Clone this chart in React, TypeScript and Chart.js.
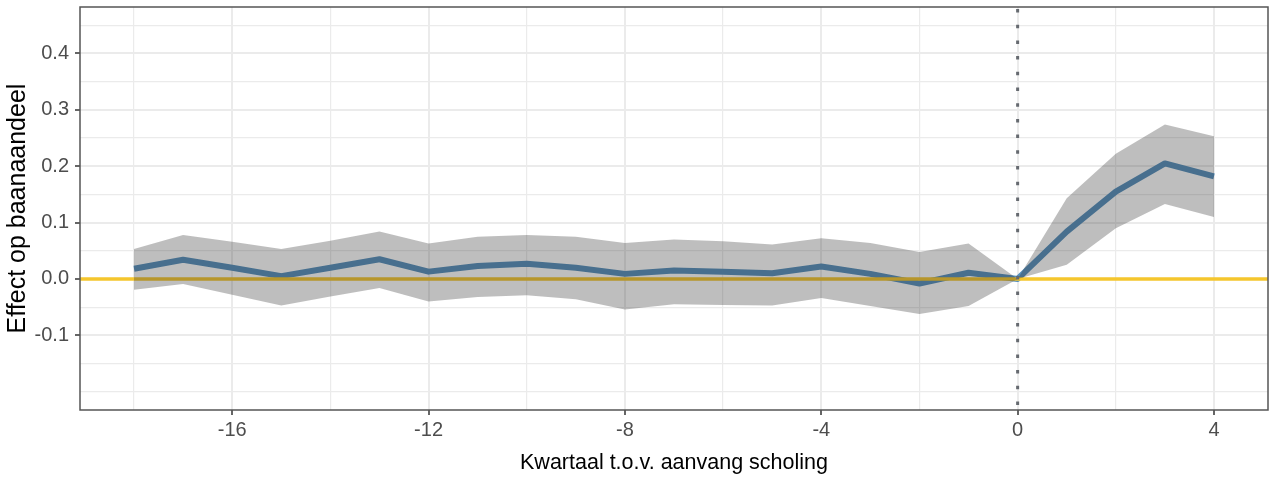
import React, { useEffect, useRef } from "react";
import { Chart, registerables } from "chart.js";

Chart.register(...registerables);

// ---- data ----
const quarters = [-18, -17, -16, -15, -14, -13, -12, -11, -10, -9, -8, -7, -6, -5, -4, -3, -2, -1, 0, 1, 2, 3, 4];
const estimate = [0.018, 0.034, 0.02, 0.005, 0.02, 0.035, 0.013, 0.023, 0.027, 0.02, 0.009, 0.015, 0.013, 0.01, 0.022, 0.009, -0.008, 0.011, 0, 0.084, 0.155, 0.205, 0.182];
const upperCI = [0.053, 0.078, 0.066, 0.053, 0.068, 0.084, 0.063, 0.075, 0.078, 0.075, 0.064, 0.07, 0.067, 0.061, 0.072, 0.064, 0.048, 0.063, 0, 0.143, 0.222, 0.274, 0.253];
const lowerCI = [-0.019, -0.009, -0.028, -0.047, -0.031, -0.016, -0.04, -0.032, -0.029, -0.036, -0.054, -0.045, -0.046, -0.047, -0.034, -0.048, -0.062, -0.048, 0, 0.025, 0.09, 0.133, 0.11];

const xGridValues = [-18, -16, -14, -12, -10, -8, -6, -4, -2, 0, 2, 4];
const xTickLabels = [-16, -12, -8, -4, 0, 4];
const yGridValues = [-0.2, -0.15, -0.1, -0.05, 0, 0.05, 0.1, 0.15, 0.2, 0.25, 0.3, 0.35, 0.4, 0.45];
const yTickLabels = [-0.1, 0, 0.1, 0.2, 0.3, 0.4];

const xTitle = "Kwartaal t.o.v. aanvang scholing";
const yTitle = "Effect op baanaandeel";
const refY = 0;
const eventX = 0;

const X_MIN = -19.1, X_MAX = 5.1;
const Y_MIN = -0.2325, Y_MAX = 0.4825;

const BLUE = "rgb(86,143,187)";
const YELLOW = "rgb(245,198,45)";
const RIBBON = "rgba(40,40,40,0.3)";
const GRID = "#ebebeb";
const TICK_TEXT = "#4d4d4d";
const FONT = "'Liberation Sans', Arial, Helvetica, sans-serif";

const isIn = (arr: number[], v: number) => arr.some((a) => Math.abs(a - v) < 1e-9);

export default function App() {
  const ref = useRef<HTMLCanvasElement | null>(null);
  useEffect(() => {
    document.body.style.margin = "0";
    const canvas = ref.current;
    if (!canvas) return;

    const overlay = {
      id: "overlay",
      afterDatasetDraw(chart: any, args: any) {
        if (args.index !== 2) return;
        const { ctx, chartArea: a, scales } = chart;
        const py = scales.y.getPixelForValue(refY);
        ctx.save();
        ctx.beginPath();
        ctx.rect(a.left, a.top, a.right - a.left, a.bottom - a.top);
        ctx.clip();
        ctx.strokeStyle = YELLOW;
        ctx.lineWidth = 3.5;
        ctx.beginPath();
        ctx.moveTo(a.left, py);
        ctx.lineTo(a.right, py);
        ctx.stroke();
        ctx.restore();
      },
      afterDatasetsDraw(chart: any) {
        const { ctx, chartArea: a, scales } = chart;
        const px = scales.x.getPixelForValue(eventX);
        ctx.save();
        ctx.strokeStyle = "#666a70";
        ctx.lineWidth = 3;
        ctx.setLineDash([3.5, 12.2]);
        ctx.lineDashOffset = -2;
        ctx.beginPath();
        ctx.moveTo(px, a.top);
        ctx.lineTo(px, a.bottom);
        ctx.stroke();
        ctx.setLineDash([]);
        ctx.strokeStyle = "#555555";
        ctx.lineWidth = 1.5;
        ctx.strokeRect(a.left, a.top, a.right - a.left, a.bottom - a.top);
        ctx.restore();
      },
    };

    const toPts = (ys: number[]) => quarters.map((q, i) => ({ x: q, y: ys[i] }));

    const chart = new Chart(canvas, {
      type: "line",
      data: {
        datasets: [
          {
            label: "upper",
            data: toPts(upperCI),
            borderWidth: 0,
            pointRadius: 0,
            backgroundColor: RIBBON,
            fill: "+1",
          } as any,
          {
            label: "lower",
            data: toPts(lowerCI),
            borderWidth: 0,
            pointRadius: 0,
            fill: false,
          },
          {
            label: "estimate",
            data: toPts(estimate),
            borderColor: BLUE,
            borderWidth: 6,
            borderJoinStyle: "round",
            borderCapStyle: "butt",
            pointRadius: 0,
            fill: false,
            tension: 0,
          },
        ],
      },
      options: {
        animation: false,
        responsive: false,
        maintainAspectRatio: false,
        layout: { padding: { left: 0, right: 3, top: 7, bottom: 0 } },
        plugins: {
          legend: { display: false },
          tooltip: { enabled: false },
        },
        scales: {
          x: {
            type: "linear",
            min: X_MIN,
            max: X_MAX,
            afterBuildTicks: (scale: any) => {
              scale.ticks = xGridValues.map((v) => ({ value: v }));
            },
            afterFit: (scale: any) => {
              scale.height = 67;
              scale.paddingLeft = 0;
              scale.paddingRight = 0;
            },
            border: { display: false },
            grid: {
              color: GRID,
              lineWidth: (ctx: any) => (isIn(xTickLabels, ctx.tick?.value) ? 2 : 1.2),
              drawTicks: true,
              tickLength: 5,
              tickWidth: 1.5,
              tickColor: (ctx: any) => (isIn(xTickLabels, ctx.tick?.value) ? "#333333" : "rgba(0,0,0,0)"),
            },
            ticks: {
              autoSkip: false,
              maxRotation: 0,
              padding: 3,
              color: TICK_TEXT,
              font: { family: FONT, size: 20, lineHeight: 1.2 },
              callback: (v: any) => (isIn(xTickLabels, Number(v)) ? String(Math.round(Number(v))) : ""),
            },
            title: {
              display: true,
              text: xTitle,
              color: "#000000",
              font: { family: FONT, size: 21.5, lineHeight: 1.2 },
              padding: { top: 0, bottom: 1 },
            },
          },
          y: {
            type: "linear",
            min: Y_MIN,
            max: Y_MAX,
            afterBuildTicks: (scale: any) => {
              scale.ticks = yGridValues.map((v) => ({ value: v }));
            },
            afterFit: (scale: any) => {
              scale.width = 80;
              scale.paddingTop = 0;
              scale.paddingBottom = 0;
            },
            border: { display: false },
            grid: {
              color: GRID,
              lineWidth: (ctx: any) => (isIn(yTickLabels, ctx.tick?.value) ? 2 : 1.2),
              drawTicks: true,
              tickLength: 5,
              tickWidth: 1.5,
              tickColor: (ctx: any) => (isIn(yTickLabels, ctx.tick?.value) ? "#333333" : "rgba(0,0,0,0)"),
            },
            ticks: {
              autoSkip: false,
              padding: 6,
              color: TICK_TEXT,
              font: { family: FONT, size: 20, lineHeight: 1.2 },
              callback: (v: any) => (isIn(yTickLabels, Number(v)) ? Number(v).toFixed(1) : ""),
            },
            title: {
              display: true,
              text: yTitle,
              color: "#000000",
              font: { family: FONT, size: 25, lineHeight: 1.2 },
              padding: { top: 3, bottom: 0 },
            },
          },
        },
      },
      plugins: [overlay],
    });
    return () => chart.destroy();
  }, []);

  return (
    <div style={{ width: 1271, height: 477 }}>
      <canvas ref={ref} width={1271} height={477} style={{ display: "block", width: 1271, height: 477 }} />
    </div>
  );
}
